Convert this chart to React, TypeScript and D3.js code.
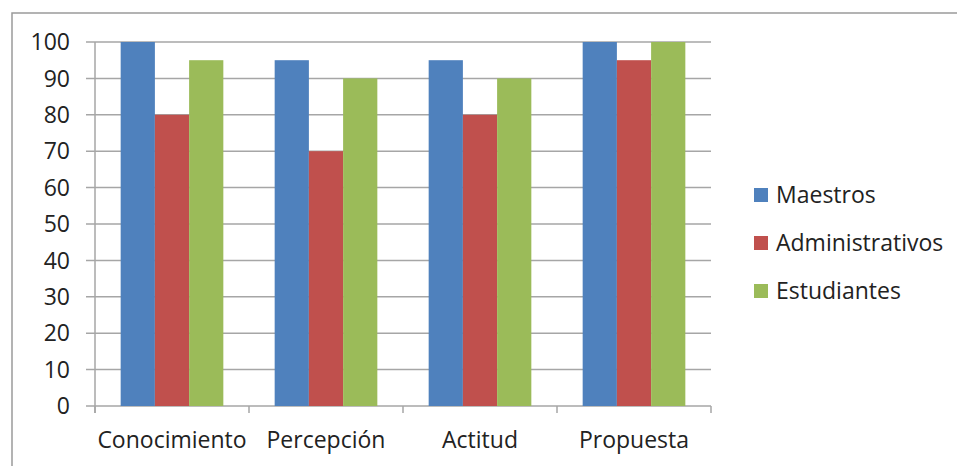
import React from "react";
import * as d3 from "d3";

const categories = ["Conocimiento", "Percepción", "Actitud", "Propuesta"];
const seriesNames = ["Maestros", "Administrativos", "Estudiantes"];
const maestros = [100, 95, 95, 100];
const administrativos = [80, 70, 80, 95];
const estudiantes = [95, 90, 90, 100];
const yTicks = [0, 10, 20, 30, 40, 50, 60, 70, 80, 90, 100];
const colors = ["#4F81BD", "#C0504D", "#9BBB59"];

const W = 957;
const H = 466;
const FONT = "'Open Sans', 'Noto Sans', sans-serif";
const FS = 23;

export default function App() {
  const series = [maestros, administrativos, estudiantes];
  const left = 95, right = 711, top = 42, bottom = 406;
  const x = d3.scaleBand<string>().domain(categories).range([left, right]).paddingInner(0).paddingOuter(0);
  const y = d3.scaleLinear().domain([0, 100]).range([bottom, top]);
  const bw = x.bandwidth() / 4.5;
  const gridColor = "#A6A6A6";
  return (
    <div style={{ position: "absolute", left: 0, top: 0 }}>
      <svg width={W} height={H} style={{ display: "block" }}>
        <rect x={0} y={0} width={W} height={H} fill="#fff" />
        <rect x={12} y={13} width={W + 20} height={H + 20} fill="none" stroke="#9a9a9a" strokeWidth={1.5} />
        {yTicks.map((t) => (
          <g key={t}>
            <line x1={86} x2={right} y1={y(t)} y2={y(t)} stroke={gridColor} strokeWidth={1.5} />
            <text x={70} y={y(t)} dy="0.36em" textAnchor="end" fontFamily={FONT} fontSize={FS} fill="#222">
              {t}
            </text>
          </g>
        ))}
        <line x1={left} x2={left} y1={top} y2={bottom + 7} stroke={gridColor} strokeWidth={1.5} />
        {[...categories.map((c) => x(c)!), right].map((px, i) => (
          <line key={i} x1={px} x2={px} y1={bottom} y2={bottom + 7} stroke={gridColor} strokeWidth={1.5} />
        ))}
        {categories.map((c, ci) => (
          <g key={c}>
            {series.map((s, si) => (
              <rect
                key={si}
                x={x(c)! + bw * 0.75 + si * bw}
                y={y(s[ci])}
                width={bw}
                height={bottom - y(s[ci])}
                fill={colors[si]}
              />
            ))}
            <text x={x(c)! + x.bandwidth() / 2} y={448} textAnchor="middle" fontFamily={FONT} fontSize={FS} fill="#222">
              {c}
            </text>
          </g>
        ))}
        {seriesNames.map((n, i) => (
          <g key={n}>
            <rect x={754} y={188 + i * 48} width={14} height={14} fill={colors[i]} />
            <text x={776} y={195 + i * 48} dy="0.36em" fontFamily={FONT} fontSize={FS} fill="#222">
              {n}
            </text>
          </g>
        ))}
      </svg>
    </div>
  );
}
